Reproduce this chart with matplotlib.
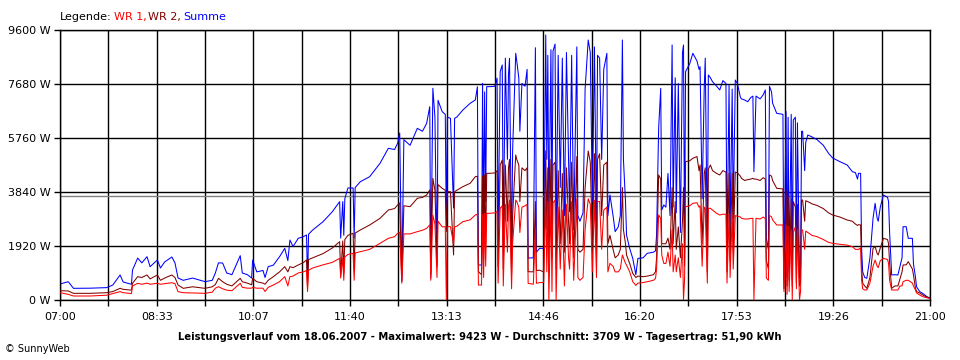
import matplotlib
matplotlib.use("Agg")
import matplotlib.pyplot as plt
import numpy as np

# minutes after 07:00
minutes = [
    0, 8, 13, 29, 45, 51, 58, 61, 69, 70, 75, 79, 84, 87, 94, 97, 101, 108, 111, 114,
    119, 128, 140, 147, 150, 153, 157, 161, 166, 174, 176, 181, 185, 186, 190, 196, 198, 201, 206, 212,
    217, 220, 222, 225, 230, 235, 238, 239, 240, 244, 254, 263, 270, 271, 273, 274, 275, 278, 283, 284,
    285, 290, 299, 309, 317, 323, 326, 328, 330, 332, 338, 345, 350, 354, 357, 358, 360, 362, 364, 365,
    369, 372, 373, 374, 377, 380, 381, 383, 389, 396, 401, 403, 404, 407, 408, 409, 410, 411, 412, 415,
    420, 422, 423, 425, 427, 428, 430, 432, 433, 434, 436, 437, 440, 441, 443, 444, 446, 449, 451, 452,
    457, 459, 460, 463, 467, 469, 470, 471, 472, 474, 475, 476, 478, 479, 481, 483, 485, 487, 489, 491,
    492, 494, 496, 499, 500, 502, 505, 507, 510, 512, 514, 516, 518, 519, 521, 523, 525, 528, 529, 531,
    534, 536, 539, 541, 543, 544, 546, 547, 550, 553, 556, 558, 563, 567, 573, 575, 576, 578, 580, 581,
    583, 585, 587, 589, 591, 592, 594, 595, 597, 599, 601, 602, 603, 604, 608, 611, 615, 617, 618, 620,
    622, 623, 625, 626, 628, 630, 634, 637, 640, 643, 644, 646, 647, 649, 650, 652, 654, 657, 658, 661,
    664, 667, 669, 670, 672, 676, 679, 681, 682, 684, 685, 687, 688, 692, 698, 699, 701, 702, 703, 704,
    706, 707, 708, 710, 711, 712, 714, 715, 716, 717, 719, 720, 722, 726, 731, 737, 742, 746, 753, 760,
    765, 768, 770, 771, 773, 774, 775, 777, 779, 782, 785, 787, 789, 790, 792, 795, 799, 800, 801, 803,
    806, 809, 811, 813, 814, 817, 819, 823, 824, 826, 827, 830, 833, 837, 840,
]

summe = [
    569, 650, 415, 420, 440, 533, 889, 640, 560, 1067, 1490, 1320, 1540, 1185, 1422, 1138, 1350, 1530, 1320, 780,
    700, 780, 652, 700, 960, 1320, 1315, 960, 900, 1576, 960, 900, 780, 1422, 1000, 1050, 800, 1185, 1240, 1540,
    1837, 1400, 2133, 1900, 2193, 2252, 2311, 700, 2340, 2489, 2785, 3141, 3497, 2200, 3500, 2300, 3600, 3983, 3983, 2200,
    4000, 4207, 4385, 4860, 5394, 5350, 5572, 5938, 700, 5700, 5500, 6104, 6000, 6282, 6874, 780, 7528, 6500, 1200, 7100,
    6697, 6600, 2500, 6500, 6460, 3270, 6460, 6500, 6756, 6993, 7112, 7585, 1245, 1245, 7705, 2500, 7400, 3500, 7585, 7585,
    7600, 7890, 2200, 8120, 8356, 2074, 8600, 5000, 8000, 8593, 1500, 5300, 8771, 8500, 7890, 6000, 7700, 7600, 8200, 1490,
    1500, 8970, 1700, 1837, 1837, 9423, 5000, 8700, 2500, 8900, 3000, 8850, 9100, 2000, 8700, 4000, 8600, 3000, 8800, 5000,
    3141, 8700, 2500, 9000, 3000, 2800, 3100, 7500, 9245, 8800, 3500, 9000, 2400, 8700, 8600, 5000, 8200, 8771, 3000, 3734,
    3000, 2430, 2600, 3000, 9245, 5000, 3500, 2311, 1837, 1481, 900, 1480, 1500, 1660, 1700, 1750, 2311, 6104, 7528, 3200,
    3378, 3300, 4500, 3000, 9067, 3300, 7900, 3100, 7700, 2400, 8800, 9067, 1956, 8120, 8400, 8771, 8500, 8200, 8297, 3600,
    7500, 8600, 1718, 8000, 7900, 7764, 7600, 7468, 7800, 7700, 1700, 7650, 2400, 7500, 2900, 7820, 7700, 7200, 7150, 7112,
    7050, 7200, 7250, 4563, 7250, 7150, 7300, 7468, 2193, 1800, 7600, 7400, 7000, 6638, 6600, 700, 6700, 800, 6500, 1000,
    6600, 700, 6400, 6500, 1200, 6300, 800, 1100, 6000, 6000, 4600, 5600, 5867, 5800, 5700, 5500, 5216, 5050, 4919, 4800,
    4563, 4530, 4300, 4504, 4504, 1800, 1000, 800, 770, 1500, 2900, 3437, 2900, 2800, 3300, 3734, 3650, 3500, 2400, 889,
    900, 889, 1200, 1500, 2607, 2607, 2193, 2193, 1300, 800, 474, 300, 237, 119, 71,
]

wr2 = [
    332, 320, 237, 237, 260, 300, 415, 380, 350, 593, 830, 800, 889, 750, 889, 700, 780, 889, 800, 533,
    415, 470, 415, 470, 550, 770, 650, 560, 500, 770, 650, 600, 540, 770, 650, 600, 560, 700, 830, 1000,
    1185, 1000, 1185, 1150, 1245, 1330, 1422, 500, 1440, 1500, 1650, 1850, 2074, 900, 2100, 950, 2150, 2300, 2370, 1100,
    2380, 2489, 2667, 2904, 3200, 3250, 3378, 3450, 650, 3350, 3319, 3615, 3650, 3734, 3911, 900, 4326, 3900, 1300, 4100,
    3971, 3900, 2430, 3852, 3852, 1600, 3850, 3900, 4030, 4150, 4385, 4400, 1007, 900, 4400, 1400, 4450, 2000, 4504, 4504,
    4520, 4600, 1200, 4800, 4978, 1100, 4800, 2800, 4700, 5000, 900, 3000, 5156, 5000, 4800, 3500, 4700, 4600, 4700, 1007,
    1000, 3500, 1050, 1060, 1000, 5300, 2500, 4700, 1200, 5000, 1500, 4800, 4900, 1100, 4600, 2000, 4500, 1700, 4700, 2800,
    2000, 4900, 1500, 5100, 1800, 1700, 1800, 4000, 5300, 4900, 2000, 5200, 1500, 5000, 5200, 3000, 4800, 4900, 2000, 2300,
    1800, 1500, 1600, 1800, 4000, 2500, 2000, 1600, 1304, 948, 800, 850, 830, 850, 900, 1007, 1500, 4445, 4300, 2000,
    2000, 2000, 2200, 1800, 4000, 2000, 3500, 1800, 2600, 1500, 2800, 4000, 1200, 4919, 4950, 5037, 5100, 4600, 4800, 2000,
    4500, 4700, 1000, 4650, 4800, 4600, 4500, 4445, 4600, 4550, 1000, 4500, 1400, 4500, 1700, 4550, 4520, 4400, 4326, 4250,
    4280, 4300, 4326, 4300, 4300, 4250, 4350, 4300, 1400, 1100, 4450, 4400, 4250, 3971, 3950, 400, 3900, 500, 3700, 700,
    3600, 500, 3500, 3300, 600, 3400, 500, 600, 3556, 3556, 2800, 3530, 3500, 3420, 3360, 3250, 3100, 3022, 2950, 2845,
    2800, 2700, 2650, 2680, 2667, 1100, 600, 500, 415, 800, 1837, 1900, 1650, 1600, 1850, 2193, 2150, 2000, 1300, 415,
    500, 500, 750, 1000, 1245, 1250, 1363, 1100, 900, 415, 300, 250, 178, 100, 60,
]

wr1 = [
    261, 200, 142, 142, 170, 230, 297, 260, 230, 498, 593, 560, 600, 560, 593, 560, 580, 616, 580, 297,
    260, 250, 237, 280, 420, 474, 400, 350, 330, 593, 450, 420, 420, 450, 420, 420, 300, 450, 533, 650,
    830, 500, 830, 850, 960, 1000, 1050, 300, 1060, 1138, 1250, 1340, 1481, 780, 1500, 700, 1530, 1620, 1660, 700,
    1670, 1718, 1800, 2015, 2193, 2250, 2370, 2400, 600, 2350, 2350, 2430, 2480, 2548, 2667, 700, 3022, 2700, 800, 2800,
    2600, 2607, 0, 2607, 2607, 2000, 2600, 2620, 2785, 2850, 3022, 3050, 533, 533, 3050, 800, 3080, 1200, 3082, 3082,
    3100, 3150, 600, 3260, 3350, 500, 3400, 1700, 3300, 3556, 400, 2000, 3556, 3500, 3300, 2400, 3300, 3350, 3400, 593,
    560, 2500, 593, 620, 620, 3615, 1000, 3500, 0, 3500, 300, 3450, 3550, 0, 3300, 1100, 3200, 500, 3400, 1500,
    1100, 3500, 700, 3600, 800, 700, 800, 2500, 3600, 3400, 1000, 3550, 800, 3500, 3500, 1800, 3200, 3300, 1000, 1300,
    1200, 1000, 1000, 1100, 1600, 1500, 1300, 1245, 1007, 652, 520, 600, 620, 650, 700, 770, 1100, 3022, 2900, 1600,
    1300, 1300, 1700, 1200, 2500, 1000, 1600, 1000, 1500, 800, 2000, 0, 700, 3319, 3350, 3437, 3460, 3300, 3350, 1200,
    3300, 3260, 600, 3260, 3260, 3200, 3080, 3022, 3050, 3050, 600, 3050, 800, 3040, 1100, 3000, 2980, 2950, 2904, 2880,
    2880, 2900, 2904, 0, 2904, 2880, 2950, 2900, 780, 700, 3000, 2960, 2850, 2667, 2667, 300, 2667, 200, 2600, 300,
    2500, 0, 2400, 2600, 400, 2500, 0, 300, 2489, 2489, 1800, 2450, 2400, 2300, 2250, 2150, 2050, 2015, 1980, 1950,
    1896, 1800, 1800, 1800, 1850, 700, 400, 356, 356, 600, 1200, 1422, 1200, 1150, 1400, 1481, 1440, 1300, 700, 356,
    356, 356, 500, 500, 652, 700, 700, 600, 500, 356, 250, 180, 119, 80, 50,
]

durchschnitt = 3709
y_ticks = [0, 1920, 3840, 5760, 7680, 9600]
x_labels = ["07:00", "08:33", "10:07", "11:40", "13:13", "14:46", "16:20", "17:53", "19:26", "21:00"]

fig = plt.figure(figsize=(9.6, 3.6), dpi=100)
ax = fig.add_axes([60 / 960, 1 - 300 / 360, 870 / 960, 270 / 360])

x_grid = np.linspace(0, 840, 19)
for y in y_ticks:
    ax.axhline(y, color='black', lw=1.0, zorder=1)
for x in x_grid:
    ax.axvline(x, color='black', lw=1.0, zorder=1)
ax.axhline(durchschnitt, color='#808080', lw=1.0, zorder=1)

ax.plot(minutes, summe, color='#0000ff', lw=0.75, zorder=2)
ax.plot(minutes, wr2, color='#800000', lw=0.75, zorder=3)
ax.plot(minutes, wr1, color='#ff0000', lw=0.75, zorder=4)

ax.set_xlim(0, 840)
ax.set_ylim(0, 9600)
ax.set_yticks(y_ticks)
ax.set_yticklabels([f"{v} W" for v in y_ticks])
ax.set_xticks(x_grid)
ax.set_xticklabels([x_labels[i // 2] if i % 2 == 0 else "" for i in range(19)])
ax.tick_params(axis='both', direction='out', length=4, width=1, colors='black', labelsize=8)
ax.tick_params(axis='x', pad=5)
ax.tick_params(axis='y', pad=3)
for s in ax.spines.values():
    s.set_linewidth(1.0)

# Legende in mehreren Farben
renderer = fig.canvas.get_renderer()
xpos = 60 / 960
for text, col in [("Legende:", 'black'), ("WR 1,", '#ff0000'), ("WR 2,", '#800000'), ("Summe", '#0000ff')]:
    t = fig.text(xpos, 1 - 17 / 360, text, color=col, fontsize=8, va='center', ha='left')
    bb = t.get_window_extent(renderer)
    xpos = (bb.x1 + 2) / 960

fig.text(0.5, 1 - 337 / 360,
         "Leistungsverlauf vom 18.06.2007 - Maximalwert: 9423 W - Durchschnitt: 3709 W - Tagesertrag: 51,90 kWh",
         ha='center', va='center', fontsize=8, fontweight='bold', fontstretch='condensed')
fig.text(5 / 960, 1 - 349 / 360, "© SunnyWeb", ha='left', va='center', fontsize=7)

fig.savefig("out.png", dpi=100)
